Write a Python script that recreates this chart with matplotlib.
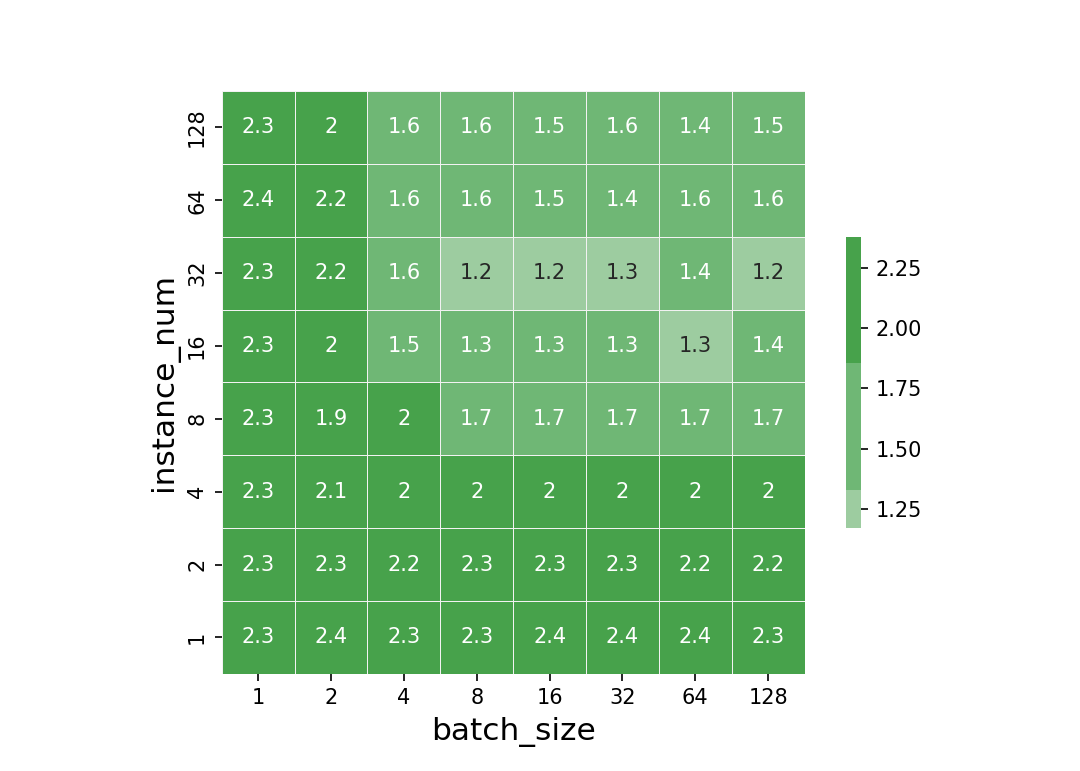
import numpy as np
import pandas as pd
import matplotlib
matplotlib.use('Agg')
import matplotlib.pyplot as plt
import seaborn as sns
from matplotlib.colors import ListedColormap

batch_size = [1, 2, 4, 8, 16, 32, 64, 128]
instance_num = [128, 64, 32, 16, 8, 4, 2, 1]  # top to bottom

# rows follow instance_num order (top row first)
row_128 = [2.3, 2.0, 1.6, 1.6, 1.5, 1.6, 1.4, 1.5]
row_64 = [2.38, 2.2, 1.6, 1.6, 1.5, 1.4, 1.6, 1.6]
row_32 = [2.3, 2.2, 1.6, 1.17, 1.2, 1.3, 1.4, 1.2]
row_16 = [2.3, 2.0, 1.5, 1.34, 1.34, 1.34, 1.28, 1.4]
row_8 = [2.3, 1.9, 2.0, 1.7, 1.7, 1.7, 1.7, 1.7]
row_4 = [2.3, 2.1, 2.0, 2.0, 2.0, 2.0, 2.0, 2.0]
row_2 = [2.3, 2.3, 2.2, 2.3, 2.3, 2.3, 2.2, 2.2]
row_1 = [2.3, 2.37, 2.3, 2.3, 2.36, 2.37, 2.36, 2.3]

df = pd.DataFrame([row_128, row_64, row_32, row_16, row_8, row_4, row_2, row_1],
                  index=instance_num, columns=batch_size)

# three greens, unequal share of the colour range
cmap = ListedColormap(['#9dcca0'] * 3 + ['#6fb775'] * 10 + ['#47a24b'] * 10)

fig = plt.figure(figsize=(7.2, 5.14), dpi=150)
fig.subplots_adjust(top=0.882, bottom=0.126)
ax = sns.heatmap(df, annot=True, cmap=cmap, square=True, linewidths=0.35,
                 linecolor='#f2f2f2', cbar_kws={'shrink': 0.5})
ax.set_xlabel('batch_size', fontsize=15)
ax.set_ylabel('instance_num', fontsize=15)
cbar = ax.collections[0].colorbar
cbar.outline.set_visible(False)
cbar.set_ticks([1.25, 1.5, 1.75, 2.0, 2.25])

plt.savefig('out.png', dpi=150)
